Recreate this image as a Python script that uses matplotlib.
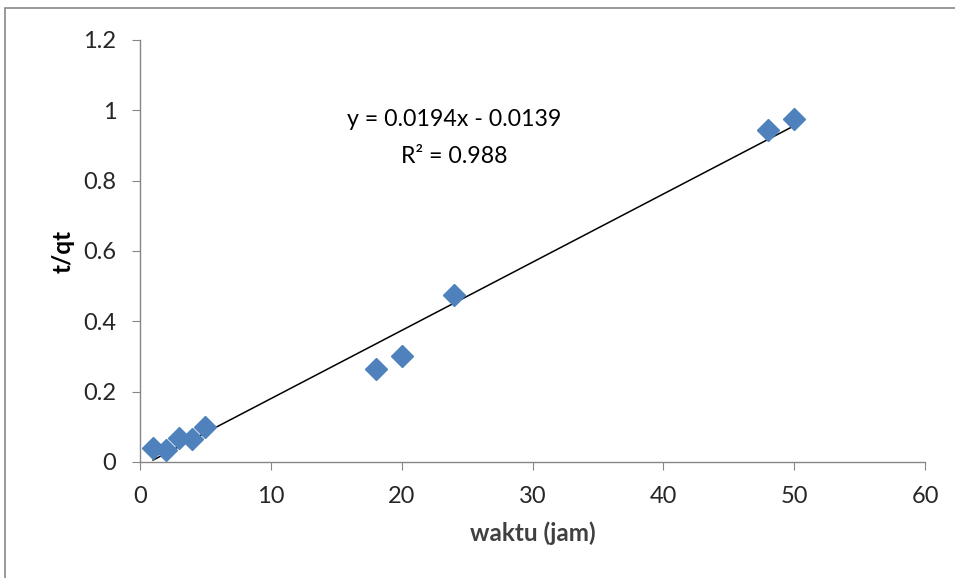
import numpy as np
import matplotlib
matplotlib.use("Agg")
import matplotlib.pyplot as plt
from matplotlib.patches import Rectangle

# Data
waktu = [1, 2, 3, 4, 5, 18, 20, 24, 48, 50]          # jam
t_qt = [0.040, 0.035, 0.068, 0.065, 0.100, 0.265, 0.300, 0.475, 0.945, 0.975]

# Trendline (as printed on the chart)
slope = 0.0194
intercept = -0.0139
eq_label = "y = 0.0194x - 0.0139"
r2_label = "R² = 0.988"

x_ticks = [0, 10, 20, 30, 40, 50, 60]
y_ticks = [0, 0.2, 0.4, 0.6, 0.8, 1.0, 1.2]
y_tick_labels = ["0", "0.2", "0.4", "0.6", "0.8", "1", "1.2"]

plt.rcParams['font.family'] = ['Lato', 'DejaVu Sans']

fig = plt.figure(figsize=(9.55, 5.78), dpi=100)
ax = fig.add_axes([0.1466, 0.2007, 0.8220, 0.7301])

# Garis tren
xs = np.array([min(waktu), max(waktu)])
ax.plot(xs, slope * xs + intercept, color='black', lw=1.1, zorder=2)

# Titik data
ax.plot(waktu, t_qt, linestyle='none', marker='D', markersize=11,
        color='#4F81BD', markeredgecolor='#4F81BD', zorder=3)

ax.set_xlim(0, 60)
ax.set_ylim(0, 1.2)
ax.set_xticks(x_ticks)
ax.set_yticks(y_ticks)
ax.set_yticklabels(y_tick_labels)

for s in ['top', 'right']:
    ax.spines[s].set_visible(False)
for s in ['left', 'bottom']:
    ax.spines[s].set_color('#868686')
    ax.spines[s].set_linewidth(1.0)
ax.tick_params(axis='both', direction='out', length=6, color='#868686',
               labelsize=17, labelcolor='#262626', pad=11)

ax.set_xlabel('waktu (jam)', fontsize=17.5, fontweight='bold', color='#404040', labelpad=11)
ax.set_ylabel('t/qt', fontsize=17.5, fontweight='bold', color='black', labelpad=6)

ax.text(24.0, 0.975, eq_label, ha='center', va='center', fontsize=16.7)
ax.text(24.0, 0.87, r2_label, ha='center', va='center', fontsize=16.7)

# Bingkai grafik
fig.patches.append(Rectangle((0.005, -0.05), 1.2, 1.036, transform=fig.transFigure,
                             fill=False, edgecolor='#888888', lw=1.2))

fig.savefig('out.png', dpi=100)
